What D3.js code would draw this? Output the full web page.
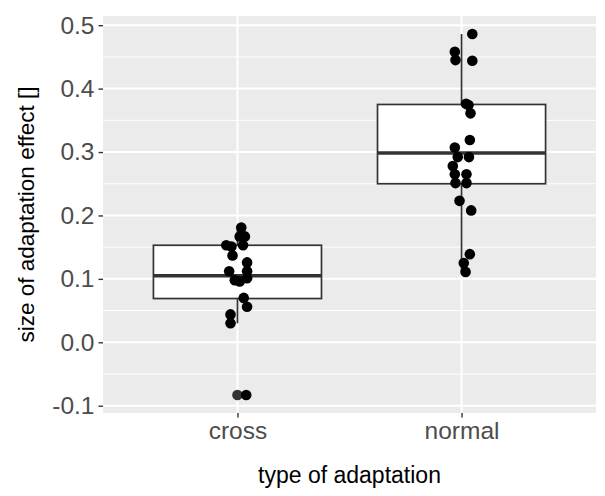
<!DOCTYPE html>
<html>
<head>
<meta charset="utf-8">
<script src="https://cdn.jsdelivr.net/npm/d3@7"></script>
<style>
  body { margin: 0; background: #fff; }
  svg { display: block; font-family: "Liberation Sans", Arial, sans-serif; }
</style>
</head>
<body>
<div class="customChart"></div>
<script>
// categories
const groups = ["cross", "normal"];

// jittered observations (value, horizontal jitter in category units)
const crossValues = [0.181, 0.167, 0.167, 0.153, 0.151, 0.153, 0.137, 0.126, 0.112, 0.112,
  0.098, 0.096, 0.101, 0.070, 0.056, 0.044, 0.030, -0.083];
const crossJitter = [0.017, 0.010, 0.033, -0.050, -0.027, 0.025, -0.022, 0.043, -0.037, 0.043,
  -0.012, 0.010, 0.043, 0.028, 0.043, -0.031, -0.031, 0.039];
const normalValues = [0.486, 0.458, 0.445, 0.444, 0.376, 0.374, 0.361, 0.319, 0.307, 0.292,
  0.292, 0.278, 0.265, 0.265, 0.251, 0.251, 0.223, 0.208, 0.139, 0.125, 0.111];
const normalJitter = [0.048, -0.030, -0.027, 0.048, 0.020, 0.031, 0.040, 0.037, -0.030, -0.017,
  0.033, -0.039, -0.030, 0.022, -0.027, 0.022, -0.009, 0.043, 0.037, 0.010, 0.018];

// boxplot statistics per group
const boxLower = [0.030, 0.111];
const boxQ1 = [0.069, 0.250];
const boxMedian = [0.105, 0.2985];
const boxQ3 = [0.153, 0.375];
const boxUpper = [0.181, 0.486];
const outliers = [[-0.083], []];

const yTicks = [-0.1, 0.0, 0.1, 0.2, 0.3, 0.4, 0.5];
const yMinor = [-0.05, 0.05, 0.15, 0.25, 0.35, 0.45];

const W = 605, H = 496;
const margin = ({top: 16, right: 9, bottom: 83, left: 103});
const width = W - margin.left - margin.right;
const height = H - margin.top - margin.bottom;

const svg = d3.select('.customChart')
  .append('svg')
  .attr('width', W)
  .attr('height', H);

const g = svg.append("g")
  .attr("transform", `translate(${margin.left},${margin.top})`);

const xScale = d3.scalePoint()
  .domain(groups)
  .range([0, width])
  .padding(0.6);
const step = xScale.step();

const yScale = d3.scaleLinear()
  .domain([-0.1115, 0.5145])
  .range([height, 0]);

// panel background
g.append("rect")
  .attr("width", width)
  .attr("height", height)
  .attr("fill", "#EBEBEB");

// grid lines
g.append("g").selectAll("line")
  .data(yMinor)
  .join("line")
  .attr("x1", 0).attr("x2", width)
  .attr("y1", d => yScale(d)).attr("y2", d => yScale(d))
  .attr("stroke", "white").attr("stroke-width", 1);

g.append("g").selectAll("line")
  .data(yTicks)
  .join("line")
  .attr("x1", 0).attr("x2", width)
  .attr("y1", d => yScale(d)).attr("y2", d => yScale(d))
  .attr("stroke", "white").attr("stroke-width", 2);

g.append("g").selectAll("line")
  .data(groups)
  .join("line")
  .attr("x1", d => xScale(d)).attr("x2", d => xScale(d))
  .attr("y1", 0).attr("y2", height)
  .attr("stroke", "white").attr("stroke-width", 2);

// boxplots
const boxes = groups.map((k, i) => ({
  key: k, lower: boxLower[i], q1: boxQ1[i], med: boxMedian[i],
  q3: boxQ3[i], upper: boxUpper[i], out: outliers[i]
}));
const bw = step * 0.75;
const boxG = g.append("g")
  .selectAll("g")
  .data(boxes)
  .join("g")
  .attr("transform", d => `translate(${xScale(d.key)},0)`);

boxG.append("line")
  .attr("y1", d => yScale(d.q3)).attr("y2", d => yScale(d.upper))
  .attr("stroke", "#333333").attr("stroke-width", 1.7);
boxG.append("line")
  .attr("y1", d => yScale(d.q1)).attr("y2", d => yScale(d.lower))
  .attr("stroke", "#333333").attr("stroke-width", 1.7);
boxG.append("rect")
  .attr("x", -bw / 2)
  .attr("width", bw)
  .attr("y", d => yScale(d.q3))
  .attr("height", d => yScale(d.q1) - yScale(d.q3))
  .attr("fill", "white")
  .attr("stroke", "#333333").attr("stroke-width", 1.7);
boxG.append("line")
  .attr("x1", -bw / 2).attr("x2", bw / 2)
  .attr("y1", d => yScale(d.med)).attr("y2", d => yScale(d.med))
  .attr("stroke", "#333333").attr("stroke-width", 3.4);
boxG.selectAll("circle")
  .data(d => d.out)
  .join("circle")
  .attr("cy", d => yScale(d))
  .attr("r", 5.3)
  .attr("fill", "#333333");

// jittered points
const points = crossValues.map((v, i) => ({g: "cross", v: v, j: crossJitter[i]}))
  .concat(normalValues.map((v, i) => ({g: "normal", v: v, j: normalJitter[i]})));

g.append("g")
  .selectAll("circle")
  .data(points)
  .join("circle")
  .attr("cx", d => xScale(d.g) + d.j * step)
  .attr("cy", d => yScale(d.v))
  .attr("r", 5.3)
  .attr("fill", "black");

// axes
const yAxis = d3.axisLeft(yScale)
  .tickValues(yTicks)
  .tickFormat(d => d.toFixed(1))
  .tickSize(4.5)
  .tickPadding(4);
const leftAxis = g.append("g").call(yAxis);
leftAxis.select(".domain").remove();
leftAxis.selectAll(".tick line").attr("stroke", "#333333").attr("stroke-width", 1.4);
leftAxis.selectAll(".tick text")
  .attr("fill", "#4D4D4D")
  .attr("font-size", 24.5)
  .attr("font-family", "Liberation Sans, Arial, sans-serif");

const xAxis = d3.axisBottom(xScale)
  .tickSize(4.5)
  .tickPadding(4);
const bottomAxis = g.append("g")
  .attr("transform", `translate(0,${height})`)
  .call(xAxis);
bottomAxis.select(".domain").remove();
bottomAxis.selectAll(".tick line").attr("stroke", "#333333").attr("stroke-width", 1.4);
bottomAxis.selectAll(".tick text")
  .attr("fill", "#4D4D4D")
  .attr("font-size", 24.5)
  .attr("font-family", "Liberation Sans, Arial, sans-serif");

// axis titles
svg.append("text")
  .attr("x", margin.left + width / 2)
  .attr("y", 483)
  .attr("text-anchor", "middle")
  .attr("font-size", 23)
  .attr("fill", "black")
  .text("type of adaptation");

svg.append("text")
  .attr("transform", `translate(34,${margin.top + height / 2}) rotate(-90)`)
  .attr("text-anchor", "middle")
  .attr("font-size", 22.5)
  .attr("fill", "black")
  .text("size of adaptation effect []");
</script>
</body>
</html>
